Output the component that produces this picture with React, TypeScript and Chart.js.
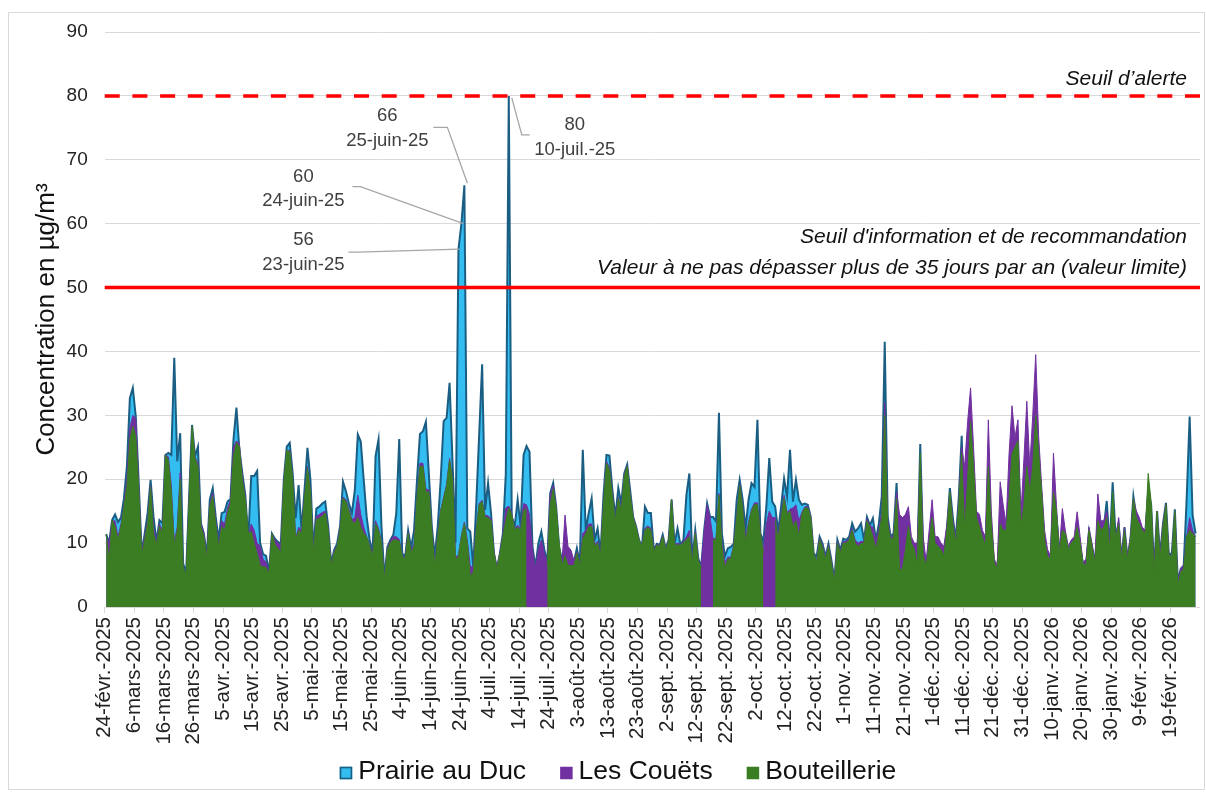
import React, { useEffect, useRef } from "react";
import { Chart, registerables } from "chart.js";

Chart.register(...registerables);

const FONT = '"Liberation Sans", Arial, Helvetica, sans-serif';

// One tick label every 10 days, starting 24 Feb 2025
const tickLabels = [
  "24-févr.-2025", "6-mars-2025", "16-mars-2025", "26-mars-2025", "5-avr.-2025",
  "15-avr.-2025", "25-avr.-2025", "5-mai-2025", "15-mai-2025", "25-mai-2025",
  "4-juin-2025", "14-juin-2025", "24-juin-2025", "4-juil.-2025", "14-juil.-2025",
  "24-juil.-2025", "3-août-2025", "13-août-2025", "23-août-2025", "2-sept.-2025",
  "12-sept.-2025", "22-sept.-2025", "2-oct.-2025", "12-oct.-2025", "22-oct.-2025",
  "1-nov.-2025", "11-nov.-2025", "21-nov.-2025", "1-déc.-2025", "11-déc.-2025",
  "21-déc.-2025", "31-déc.-2025", "10-janv.-2026", "20-janv.-2026", "30-janv.-2026",
  "9-févr.-2026", "19-févr.-2026",
];

// Daily concentrations (µg/m³), 24 Feb 2025 -> 27 Feb 2026
const prairie = [
  11.4, 10, 13.6, 14.5, 13.3, 14, 17, 22, 32.7, 34.3,
  29.8, 19.4, 8.4, 11.5, 14.7, 19.9, 14.1, 10.2, 13.6, 13.1,
  23.8, 24.1, 23.8, 39, 22.8, 27.2, 6.8, 5.3, 17, 28.5,
  23.6, 25.1, 13.1, 11.5, 7.9, 16.8, 18.6, 14.1, 10.5, 14.7,
  14.9, 16.5, 16.9, 26.2, 31.2, 24.6, 20.9, 17.5, 10.5, 20.5,
  20.5, 21.3, 10, 8.3, 8, 5.5, 11.5, 10.7, 10.2, 9.9,
  19.9, 25.1, 25.7, 20.9, 13.9, 19.1, 12, 18.3, 24.9, 19.9,
  8.9, 15.4, 15.7, 16.2, 16.5, 12.6, 6.8, 8.9, 9.9, 12.6,
  19.6, 18.1, 16.2, 14.7, 18.3, 27, 25.9, 19.9, 14.1, 10.5,
  8.4, 23.6, 26.2, 12.6, 4.5, 9.4, 10.5, 11.3, 14.7, 26.3,
  8.4, 7.9, 12, 9.3, 12, 19.9, 27.1, 27.5, 29, 20.9,
  12.6, 7.9, 12.6, 19.9, 29.1, 29.6, 35.1, 22.8, 10, 56,
  60, 66, 12.3, 11.8, 6.3, 16, 27, 38, 15.2, 19.4,
  14.7, 8.4, 6, 8.4, 11.5, 20.9, 80, 14.1, 12.6, 16.8,
  12.6, 23.8, 25.2, 24.3, 9.5, 6.2, 10, 11.8, 9, 7,
  17.8, 19.4, 15.7, 9.4, 7.3, 10, 8, 7, 7, 9.2,
  6.8, 24.6, 12, 14.7, 17, 10.5, 12.3, 8.4, 17.5, 23.8,
  23.7, 18.3, 14.1, 18.6, 16.2, 20.9, 22.3, 18.3, 14.1, 12.6,
  10.5, 9.4, 15.7, 14.7, 14.7, 8.9, 9.9, 9.7, 11.3, 9.2,
  10.5, 16.8, 9.9, 12.3, 9.7, 10.5, 17.5, 20.9, 7.3, 12,
  7.6, 6.3, 12, 16.2, 14.1, 14.1, 13.4, 30.4, 11.5, 7.9,
  9.2, 9.4, 9.9, 16.8, 19.9, 16.8, 12.3, 16.8, 19.4, 18.8,
  29.3, 11.5, 10.2, 15.7, 23.3, 16.5, 15.7, 11.8, 15.7, 20.1,
  17.3, 24.6, 16.5, 19.9, 16.8, 16, 16.2, 16, 14.1, 8.4,
  7.9, 11, 9.9, 7.9, 9.9, 7.3, 4.2, 10.5, 8.9, 10.7,
  10.5, 11, 13.1, 11.8, 12.3, 13.1, 10.5, 14.1, 12.8, 13.9,
  10.5, 13, 17.3, 41.5, 14.1, 11, 11.5, 19.4, 7, 8,
  10, 12, 10, 9.5, 7, 25.5, 8.5, 6.5, 10, 14,
  10, 10, 9.5, 8.5, 12, 18.6, 14, 10.5, 17, 26.8,
  9, 14, 19, 14, 11, 11, 10, 9, 20, 12,
  6.5, 6, 12.5, 11.5, 11.5, 16, 22, 23, 24, 12,
  15, 21, 17, 20, 28, 23, 17, 10, 7.5, 7.3,
  17, 14, 8.7, 11.5, 11, 8.8, 9.7, 10.2, 12, 9.5,
  6.5, 6.3, 11.8, 9.3, 6.8, 13, 11.8, 12.3, 16.6, 9.3,
  19.5, 11, 13, 7.5, 12.5, 7.5, 10.5, 17.3, 14, 13,
  12, 11.5, 18, 16, 5.5, 15, 8, 13, 16.3, 8,
  8.5, 15.3, 4, 6, 6.5, 17, 29.8, 14.4, 11.5,
];

const couets = [
  11, 10, 13.5, 13.5, 11, 13, 16, 20, 28, 30,
  29.5, 19, 8.5, 11, 13.5, 19, 12.5, 9.9, 13, 12,
  23.8, 23.5, 19, 10.2, 12.5, 21, 6, 5, 17, 28,
  23.5, 22.5, 13, 11.5, 8, 16, 17.8, 13.5, 9.5, 13.5,
  13, 15.5, 16.8, 25, 26, 25.5, 20.5, 17, 11, 13,
  12, 10, 9.5, 7.5, 7, 5.3, 11.5, 10.5, 10, 9.6,
  19.5, 24.5, 24.5, 20, 10.8, 12.5, 12, 17, 22, 18,
  8.7, 14.2, 14.5, 14.8, 15, 12.2, 6.6, 8.7, 9.6, 12.2,
  17.2, 16.8, 15.3, 13.7, 14, 17.5, 14.5, 12.5, 11, 9.7,
  8.2, 13.5, 12.3, 10.2, 4.5, 9.2, 10.3, 11, 11, 10.6,
  8.1, 7.6, 11.7, 8.7, 10, 17.2, 22.5, 22.5, 18.5, 18.3,
  12.2, 6.6, 11.2, 15.2, 17.2, 19.2, 23.3, 20.2, 7.8, 8.2,
  11.2, 13.3, 10.5, 6.3, 6.3, 12.2, 16.2, 16.7, 14.3, 14.3,
  13.8, 8.7, 6.2, 8.5, 11.2, 15.5, 15.8, 14.7, 12.2, 12.8,
  12.3, 16.2, 16, 14.5, 9, 6, 9, 10.5, 8.5, 6.8,
  17.5, 19, 15.6, 9.5, 7, 14.4, 9.5, 8.9, 7.3, 8.6,
  6.6, 11.5, 12, 13, 13, 9.8, 10.3, 8.2, 16.2, 22.8,
  21.8, 17.7, 13.7, 17.2, 15.2, 20.7, 22.1, 17.7, 14.1, 12.6,
  10.5, 9.5, 12.3, 12.7, 12.3, 8.8, 9.8, 9.6, 11.1, 9.1,
  10.4, 16.8, 9.8, 10, 9.8, 10.2, 11, 12, 7.1, 11.7,
  7.5, 6.2, 11.8, 16, 14, 10.7, 10.7, 17.8, 10, 7,
  7.8, 7.8, 9.7, 14.3, 19.2, 15.8, 10.8, 13.3, 15.3, 16.3,
  16.3, 11.6, 8.8, 13, 15, 14, 14, 11, 14.3, 17.5,
  14.8, 15.3, 15.5, 16, 13.5, 14.8, 15.7, 15.7, 14.1, 8.4,
  7.2, 10.7, 9.5, 7.7, 9.7, 7, 4.1, 10.2, 8.6, 10.2,
  10.3, 10.7, 12.3, 10.5, 10, 10.3, 10.2, 13.8, 12.7, 12.5,
  10.5, 12, 15, 32, 13.5, 10.8, 11.3, 18, 14.5, 14,
  14.5, 15.7, 11, 10, 10, 23, 11, 7.1, 12, 16.8,
  11, 11, 10, 9.5, 13, 18, 13.5, 10.5, 16.5, 25,
  22, 29, 34.3, 25, 15, 14.5, 12, 11, 29.3, 15,
  7.5, 6.5, 19.6, 16, 13, 24, 31.5, 26.5, 29.3, 14.4,
  23, 32.2, 22, 30, 39.5, 26.7, 19, 12, 9, 8,
  24.1, 16, 8.8, 15.4, 12, 9.5, 10.5, 11, 14.9, 11,
  7, 7.5, 12.5, 10, 7.5, 17.7, 13.5, 13.5, 15, 10,
  15, 10.5, 14, 8, 12.5, 8, 11, 17, 15, 14,
  12.5, 12, 19, 16, 6, 15, 8, 13, 16, 8,
  8, 15, 4, 6, 6.5, 11, 14, 12, 11,
];

const bouteillerie = [
  11.4, 7.1, 13.6, 12.6, 10.5, 12.6, 15.7, 18.8, 26.2, 28.3,
  26.7, 18.3, 8.1, 10.5, 13.1, 18.8, 11.5, 9.7, 12.6, 11.5,
  23.8, 23, 18, 9.7, 12, 20, 6.3, 5, 16.8, 28.3,
  23.3, 22, 12.6, 11, 7.6, 15.7, 17.3, 13.1, 9.2, 12.6,
  12, 14.7, 16.2, 23.6, 25.7, 25.1, 19.9, 16.8, 11.5, 11.8,
  9.9, 8.4, 6.5, 6.3, 6.2, 5.2, 11.5, 9.8, 9.2, 8.5,
  19.5, 24.5, 24.3, 20, 10.5, 12, 11.5, 17, 21.7, 18,
  8.5, 13.7, 13.9, 14.2, 14.7, 12, 6.5, 8.5, 9.5, 12,
  17, 16.5, 15, 13.5, 13, 14, 12.5, 11.5, 11, 9.5,
  8, 13, 12, 10, 4.3, 9, 10, 10.5, 10.5, 10.3,
  8, 7.5, 11.5, 8.5, 9.5, 17, 22, 22, 18, 18,
  12, 6.3, 11, 15, 17, 19, 23, 20, 7.3, 8,
  11, 13, 10, 4.7, 5.5, 12, 16, 16.5, 14, 14,
  13.5, 8.5, 6, 8.3, 11, 13.5, 15.5, 14.5, 12, 12.5,
  12, 15, 15.5, null, null, null, null, null, null, 6.5,
  16, 18.5, 15.5, 10, 6.5, 8, 6.5, 6.5, 6.5, 8.4,
  6.5, 10.7, 11.5, 12.5, 12.6, 9.5, 10, 8, 16, 22.5,
  21.5, 17.5, 13.5, 17, 15, 20.5, 22, 17.5, 14, 12.5,
  10.5, 9.5, 12, 12.5, 12, 8.7, 9.7, 9.5, 11, 9,
  10.3, 16.8, 9.7, 9.7, 9.7, 10, 10.5, 11, 7, 11.5,
  7.3, 6.2, null, null, null, 10.5, 10.5, 17.5, 9.5, 6,
  7.5, 7.5, 9.5, 14, 19, 15.5, 10, 13, 15, 16,
  16, 11.5, 8.5, null, null, null, 13.5, 10.5, 14, 17,
  14.5, 15, 12.5, 13.5, 11, 14.5, 15.5, 15.5, 14, 8.4,
  7, 10.5, 9.3, 7.5, 9.5, 6.8, 4, 10, 8.4, 10,
  10, 10.5, 12, 10, 9.5, 9.9, 10, 13.5, 12.5, 11,
  9, 11.5, 14, 30, 13, 10.5, 11, 17, 5.8, 6,
  9, 12.6, 10, 9, 6.5, 24, 8, 6.5, 10, 14,
  10, 9.5, 9, 8, 12, 18, 13, 10, 16, 24,
  12, 20, 29, 22, 14, 12.5, 11, 9.5, 22, 13,
  7, 6, 13, 12, 12, 17, 24, 25, 26, 12.5,
  16, 22, 18, 22, 30, 24, 18, 10.5, 7.9, 7.6,
  18, 15, 8.5, 12, 11.5, 9, 10, 10.5, 12.5, 10,
  6.8, 6.5, 12, 9.5, 7, 13.5, 12, 12.5, 14, 9,
  18, 10.5, 13, 7.5, 12, 7.5, 10.5, 17, 14, 13,
  12, 11.5, 20.9, 16.5, 5, 15, 7.5, 12.5, 16, 8,
  8, 15, 3.4, 5.5, 6, 11, 12, 11.5, 11,
];

// Thresholds
const alertThreshold = 80;
const limitThreshold = 50;

// Annotated peaks of Prairie au Duc (day index) and their dates
const peakIndices = [119, 120, 121, 136];
const peakDates = ["23-juin-25", "24-juin-25", "25-juin-25", "10-juil.-25"];

// Layout of each annotation relative to its point (pixels)
const peakLayout = [
  { dx: -155, dy1: -9, dy2: 16, leader: [[-110, 3], [-100, 3], [1, 0]] },
  { dx: -158, dy1: -47, dy2: -23, leader: [[-109, -37], [-101, -37], [2, 0]] },
  { dx: -77, dy1: -69, dy2: -44, leader: [[-31, -58], [-17, -58], [3, -2]] },
  { dx: 66, dy1: 29, dy2: 54, leader: [[3, 2], [13, 39], [21, 39]] },
];

const toPoints = (arr: (number | null)[]) => arr.map((v, i) => ({ x: i + 0.5, y: v }));

const overlayPlugin = {
  id: "overlay",
  afterDatasetsDraw(chart: any) {
    const { ctx, chartArea, scales } = chart;
    const ys = scales.y;
    ctx.save();
    // alert threshold (dashed)
    const y80 = ys.getPixelForValue(alertThreshold);
    ctx.strokeStyle = "#ff0000";
    ctx.lineWidth = 3.5;
    ctx.setLineDash([15, 12.7]);
    ctx.beginPath();
    ctx.moveTo(chartArea.left, y80);
    ctx.lineTo(chartArea.right, y80);
    ctx.stroke();
    ctx.setLineDash([]);
    // limit threshold (solid)
    const y50 = ys.getPixelForValue(limitThreshold);
    ctx.beginPath();
    ctx.moveTo(chartArea.left, y50);
    ctx.lineTo(chartArea.right, y50);
    ctx.stroke();

    // threshold captions
    ctx.font = `italic 21px ${FONT}`;
    ctx.fillStyle = "#111";
    ctx.textAlign = "right";
    ctx.textBaseline = "middle";
    const tx = chartArea.right - 13;
    ctx.fillText("Seuil d’alerte", tx, y80 - 17);
    ctx.fillText("Seuil d'information et de recommandation", tx, y50 - 50);
    ctx.fillText("Valeur à ne pas dépasser plus de 35 jours par an (valeur limite)", tx, y50 - 19);

    // peak annotations
    const meta = chart.getDatasetMeta(0);
    peakIndices.forEach((idx, k) => {
      const pt = meta.data[idx];
      if (!pt) return;
      const px = pt.x;
      const py = pt.y;
      const L = peakLayout[k];
      ctx.strokeStyle = "#a6a6a6";
      ctx.lineWidth = 1.3;
      ctx.beginPath();
      L.leader.forEach(([dx, dy], j) => {
        if (j === 0) ctx.moveTo(px + dx, py + dy);
        else ctx.lineTo(px + dx, py + dy);
      });
      ctx.stroke();
      ctx.font = `18.5px ${FONT}`;
      ctx.fillStyle = "#404040";
      ctx.textAlign = "center";
      ctx.textBaseline = "middle";
      ctx.fillText(String(Math.round(prairie[idx])), px + L.dx, py + L.dy1);
      ctx.fillText(peakDates[k], px + L.dx, py + L.dy2);
    });
    ctx.restore();
  },
};

// Legend drawn from the datasets (labels and colours)
const legendPlugin = {
  id: "bottomLegend",
  afterDraw(chart: any) {
    const { ctx } = chart;
    const ds = chart.data.datasets;
    ctx.save();
    ctx.font = `26.5px ${FONT}`;
    const box = 12.5;
    const gapText = 6;
    const gapItem = 34;
    const widths = ds.map((d: any) => box + gapText + ctx.measureText(d.label).width);
    const total = widths.reduce((a: number, b: number) => a + b, 0) + gapItem * (ds.length - 1);
    let x = chart.width / 2 + 12 - total / 2;
    const y = chart.height - 21;
    ds.forEach((d: any, i: number) => {
      ctx.fillStyle = d.backgroundColor;
      ctx.fillRect(x, y - box / 2 + 1, box, box);
      if (d.borderWidth > 1) {
        ctx.strokeStyle = d.borderColor;
        ctx.lineWidth = 1.6;
        ctx.strokeRect(x + 0.8, y - box / 2 + 1.8, box - 1.6, box - 1.6);
      }
      ctx.fillStyle = "#111";
      ctx.textAlign = "left";
      ctx.textBaseline = "middle";
      ctx.fillText(d.label, x + box + gapText, y);
      x += widths[i] + gapItem;
    });
    ctx.restore();
  },
};

export default function App() {
  const ref = useRef<HTMLCanvasElement>(null);

  useEffect(() => {
    if (!ref.current) return;
    Chart.defaults.font.family = FONT;
    const chart = new Chart(ref.current, {
      type: "line",
      data: {
        datasets: [
          {
            label: "Prairie au Duc",
            data: toPoints(prairie),
            order: 3,
            fill: "origin",
            backgroundColor: "#33bdf0",
            borderColor: "#1b5e84",
            borderWidth: 2,
            pointRadius: 0,
            tension: 0,
          },
          {
            label: "Les Couëts",
            data: toPoints(couets),
            order: 2,
            fill: "origin",
            backgroundColor: "#7030a0",
            borderColor: "#7030a0",
            borderWidth: 1,
            pointRadius: 0,
            tension: 0,
          },
          {
            label: "Bouteillerie",
            data: toPoints(bouteillerie),
            order: 1,
            fill: "origin",
            backgroundColor: "#3b7d23",
            borderColor: "#3b7d23",
            borderWidth: 1,
            pointRadius: 0,
            tension: 0,
          },
        ],
      } as any,
      options: {
        responsive: false,
        animation: false,
        events: [],
        layout: { padding: { top: 19, right: 3, left: 0, bottom: 0 } },
        scales: {
          x: {
            type: "linear",
            min: 0,
            max: 370,
            afterBuildTicks: (s: any) => {
              s.ticks = tickLabels.map((_, k) => ({ value: k * 10 }));
            },
            afterFit: (s: any) => {
              s.height = 186;
            },
            ticks: {
              autoSkip: false,
              minRotation: 90,
              maxRotation: 90,
              padding: 4,
              color: "#222",
              font: { size: 20.5 },
              callback: (v: any) => tickLabels[Math.round(Number(v) / 10)],
            },
            grid: { drawOnChartArea: false, drawTicks: true, tickLength: 6, color: "#d9d9d9" },
            border: { display: false },
          },
          y: {
            min: 0,
            max: 90,
            afterFit: (s: any) => {
              s.width = 95.7;
            },
            ticks: { stepSize: 10, padding: 0, color: "#222", font: { size: 19 } },
            grid: { color: "#d9d9d9", drawTicks: true, tickLength: 17, tickColor: "rgba(0,0,0,0)" },
            border: { display: false },
            title: {
              display: true,
              text: "Concentration en µg/m³",
              color: "#111",
              font: { size: 26 },
              padding: { top: 22, bottom: 0 },
            },
          },
        },
        plugins: {
          legend: { display: false },
          tooltip: { enabled: false },
        },
      } as any,
      plugins: [overlayPlugin, legendPlugin],
    });
    return () => chart.destroy();
  }, []);

  return (
    <>
      <div
        style={{
          position: "absolute",
          left: 8,
          top: 12,
          width: 1197,
          height: 778,
          border: "1px solid #d9d9d9",
          boxSizing: "border-box",
          pointerEvents: "none",
        }}
      />
      <canvas
        ref={ref}
        width={1194}
        height={780}
        style={{ position: "absolute", left: 9, top: 13, width: 1194, height: 780, display: "block" }}
      />
    </>
  );
}
